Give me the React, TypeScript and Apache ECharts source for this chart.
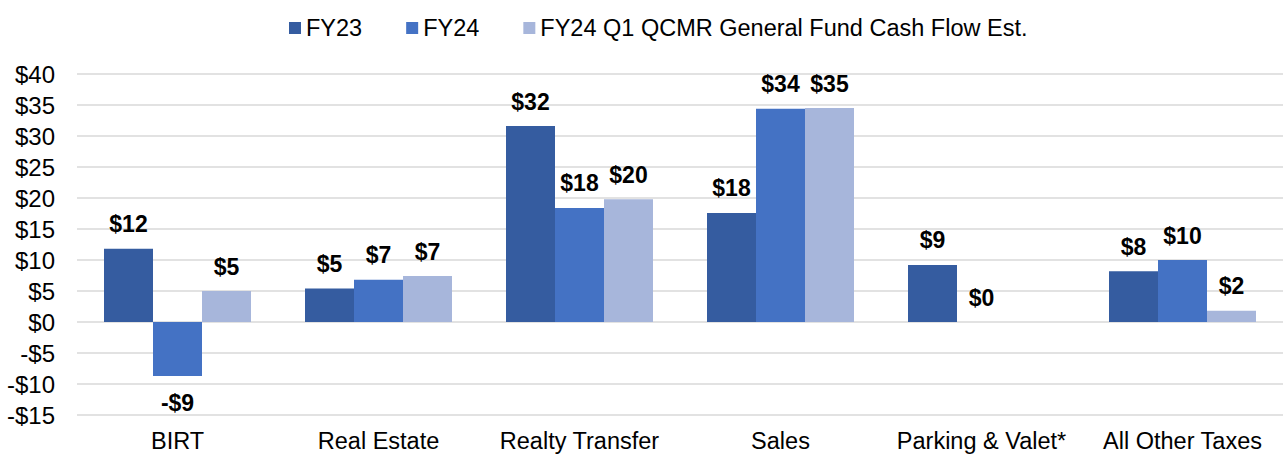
import React, { useEffect, useRef } from "react";
import * as echarts from "echarts";

const categories = ["BIRT", "Real Estate", "Realty Transfer", "Sales", "Parking & Valet*", "All Other Taxes"];
const seriesNames = ["FY23", "FY24", "FY24 Q1 QCMR General Fund Cash Flow Est."];
const fy23 = [11.8, 5.4, 31.6, 17.6, 9.2, 8.2];
const fy24 = [-8.7, 6.8, 18.4, 34.4, 0, 10.0];
const qcmr: (number | null)[] = [5.0, 7.4, 19.8, 34.5, null, 1.8];
const colors = ["#355CA0", "#4472C4", "#A7B6DB"];

const FONT = "Liberation Sans, Arial, sans-serif";
const fmt = (v: number) => (v < 0 ? "-$" : "$") + Math.round(Math.abs(v)).toString();

export default function App() {
  const ref = useRef<HTMLDivElement>(null);
  useEffect(() => {
    document.body.style.margin = "0";
    const chart = echarts.init(ref.current!, undefined, { renderer: "svg" });
    const mk = (name: string, data: (number | null)[], color: string) => ({
      name,
      type: "bar",
      barWidth: 49,
      barGap: "0%",
      itemStyle: { color },
      data: data.map((v) =>
        v === null
          ? null
          : {
              value: v,
              label: { position: v < 0 ? "bottom" : "top", distance: v < 0 ? 16 : 13 },
            }
      ),
      label: {
        show: true,
        fontFamily: FONT,
        fontSize: 23,
        fontWeight: "bold",
        color: "#000",
        formatter: (p: any) => fmt(p.value),
      },
    });
    chart.setOption({
      animation: false,
      color: colors,
      legend: {
        top: 11,
        left: 284,
        itemWidth: 12,
        itemHeight: 12,
        itemGap: 44,
        icon: "rect",
        textStyle: { fontFamily: FONT, fontSize: 23.5, color: "#000" },
        data: seriesNames,
      },
      grid: { left: 77, right: 2, top: 74, bottom: 41, containLabel: false },
      xAxis: {
        type: "category",
        data: categories,
        axisLine: { show: false, onZero: false },
        axisTick: { show: false },
        axisLabel: {
          interval: 0,
          hideOverlap: false,
          margin: 14,
          fontFamily: FONT,
          fontSize: 23.5,
          color: "#000",
        },
      },
      yAxis: {
        type: "value",
        min: -15,
        max: 40,
        interval: 5,
        axisLine: { show: false },
        axisTick: { show: false },
        splitLine: { lineStyle: { color: "#D9D9D9", width: 1.5 } },
        axisLabel: {
          margin: 22,
          fontFamily: FONT,
          fontSize: 24,
          color: "#000",
          formatter: (v: number) => fmt(v),
        },
      },
      series: [mk(seriesNames[0], fy23, colors[0]), mk(seriesNames[1], fy24, colors[1]), mk(seriesNames[2], qcmr, colors[2])],
    });
    return () => chart.dispose();
  }, []);
  return <div ref={ref} style={{ width: 1285, height: 456 }} />;
}
